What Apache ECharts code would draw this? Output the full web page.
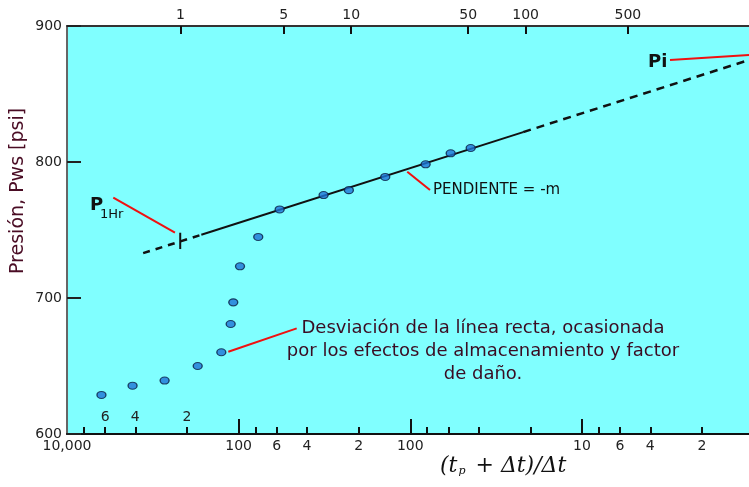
<!DOCTYPE html>
<html>
<head>
<meta charset="utf-8">
<script src="https://cdn.jsdelivr.net/npm/echarts@6/dist/echarts.min.js"></script>
<style>
  html, body { margin: 0; padding: 0; background: #fff; }
  #chart { width: 749px; height: 487px; }
</style>
</head>
<body>
<div id="chart"></div>
<script>
// Horner plot: shut-in pressure vs (tp + dt)/dt (log, reversed)
var X_MIN = 1.064, X_MAX = 10000;

// measured points [ (tp+dt)/dt , Pws psi ]
var hornerRatio = [6300, 4150, 2700, 1732, 1262, 1113, 1075, 982, 769, 577, 320, 228, 140, 81.4, 58.2, 44.5];
var pressure    = [628.7, 635.5, 639.3, 650, 660.1, 680.9, 696.8, 723.3, 744.9, 765.1, 775.7, 779.3, 789, 798.3, 806.4, 810.3];

// straight line (semilog), dashed - solid - dashed
var lineRatio = [3600, 1650, 22, 1.064];
var linePress = [733, 746.5, 822, 875];

// p1hr marker
var p1hrRatio = [2190, 2190];
var p1hrPress = [736, 748];

// bottom axis ticks / labels
var bottomMinorTicks = [8000, 6000, 4000, 2000, 800, 600, 400, 200, 80, 60, 40, 20, 8, 6, 4, 2];
var bottomMajorTicks = [1000, 100, 10];
var bottomLabelVals  = [10000, 1000, 600, 400, 200, 100, 10, 6, 4, 2];
var bottomLabels     = ['10,000', '100', '6', '4', '2', '100', '10', '6', '4', '2'];
var insideLabelVals  = [6000, 4000, 2000];
var insideLabels     = ['6', '4', '2'];

// top axis (shut-in time, hr), placed on the ratio scale
var topTickRatio = [2180, 546, 221, 46, 21.3, 5.4];
var topLabels    = ['1', '5', '10', '50', '100', '500'];

// annotation leaders
var p1hrLeader = [[5374, 773.8], [2350, 748]];
var piLeader   = [[3.07, 875.0], [1.064, 878.7]];
var slopeLeader = [[104.2, 792.9], [76.8, 779.4]];
var devLeader  = [[1149, 660.5], [459, 677.7]];

function zip(a, b) { return a.map(function (v, i) { return [v, b[i]]; }); }
function pick(vals, labels) {
  return function (v) {
    var best = 0, d = Infinity;
    for (var i = 0; i < vals.length; i++) {
      var dd = Math.abs(Math.log(v) - Math.log(vals[i]));
      if (dd < d) { d = dd; best = i; }
    }
    return labels[best];
  };
}

var FONT = 'DejaVu Sans';
var baseX = {
  type: 'log', logBase: 10, inverse: true, min: X_MIN, max: X_MAX,
  splitLine: { show: false }, gridIndex: 0
};

var chart = echarts.init(document.getElementById('chart'));
var redLine = { color: '#f01010', width: 2 };

chart.setOption({
  backgroundColor: '#fff',
  animation: false,
  grid: { left: 67, right: 0, top: 26, bottom: 53, show: true, backgroundColor: '#80ffff', borderWidth: 0 },
  xAxis: [
    Object.assign({}, baseX, {
      position: 'bottom',
      axisLine: { show: true, onZero: false, lineStyle: { color: '#111', width: 2 } },
      axisTick: { show: true, inside: true, length: 7, customValues: bottomMinorTicks, lineStyle: { color: '#111', width: 2 } },
      axisLabel: { customValues: bottomLabelVals, formatter: pick(bottomLabelVals, bottomLabels), color: '#222', fontFamily: FONT, fontSize: 14, margin: 5 }
    }),
    Object.assign({}, baseX, {
      position: 'bottom',
      axisLine: { show: false },
      axisTick: { show: true, inside: true, length: 15, customValues: bottomMajorTicks, lineStyle: { color: '#111', width: 2 } },
      axisLabel: { show: false }
    }),
    Object.assign({}, baseX, {
      position: 'bottom',
      axisLine: { show: false },
      axisTick: { show: false },
      axisLabel: { inside: true, customValues: insideLabelVals, formatter: pick(insideLabelVals, insideLabels), color: '#222', fontFamily: FONT, fontSize: 14, margin: 10 }
    }),
    Object.assign({}, baseX, {
      position: 'top',
      axisLine: { show: true, onZero: false, lineStyle: { color: '#333', width: 2 } },
      axisTick: { show: true, inside: true, length: 8, customValues: topTickRatio, lineStyle: { color: '#111', width: 2 } },
      axisLabel: { customValues: topTickRatio, formatter: pick(topTickRatio, topLabels), color: '#222', fontFamily: FONT, fontSize: 14, margin: 4 }
    })
  ],
  yAxis: {
    type: 'value', min: 600, max: 900, interval: 100,
    axisLine: { show: true, onZero: false, lineStyle: { color: '#666', width: 2 } },
    axisTick: { show: true, inside: true, length: 14, lineStyle: { color: '#222', width: 2 } },
    axisLabel: { color: '#222', fontFamily: FONT, fontSize: 14, margin: 5 },
    splitLine: { show: false }
  },
  series: [
    { type: 'line', data: zip(lineRatio.slice(0, 2), linePress.slice(0, 2)), showSymbol: false, lineStyle: { color: '#111', width: 2.5, type: [7, 6] } },
    { type: 'line', data: zip(lineRatio.slice(1, 3), linePress.slice(1, 3)), showSymbol: false, lineStyle: { color: '#111', width: 2 } },
    { type: 'line', data: zip(lineRatio.slice(2, 4), linePress.slice(2, 4)), showSymbol: false, lineStyle: { color: '#111', width: 2.5, type: [8, 6] } },
    { type: 'line', data: zip(p1hrRatio, p1hrPress), showSymbol: false, lineStyle: { color: '#111', width: 2 } },
    { type: 'line', data: p1hrLeader, showSymbol: false, lineStyle: redLine },
    { type: 'line', data: piLeader, showSymbol: false, lineStyle: redLine },
    { type: 'line', data: slopeLeader, showSymbol: false, lineStyle: redLine },
    { type: 'line', data: devLeader, showSymbol: false, lineStyle: redLine },
    {
      type: 'scatter', data: zip(hornerRatio, pressure), symbol: 'circle', symbolSize: [9, 7],
      itemStyle: { color: '#1e74d6', borderColor: '#0a1f44', borderWidth: 1.2 }, z: 5
    }
  ],
  graphic: [
    { type: 'text', x: 9, y: 274, rotation: Math.PI / 2, style: { text: 'Presión, Pws [psi]', font: '19px "DejaVu Sans"', fill: '#4a0c24' } },
    { type: 'text', x: 90, y: 196, style: { text: 'P', font: 'bold 18px "DejaVu Sans"', fill: '#111' } },
    { type: 'text', x: 100, y: 208, style: { text: '1Hr', font: '13px "DejaVu Sans"', fill: '#111' } },
    { type: 'text', x: 648, y: 53, style: { text: 'Pi', font: 'bold 18px "DejaVu Sans"', fill: '#111' } },
    { type: 'text', x: 433, y: 183, style: { text: 'PENDIENTE = -m', font: '15px "DejaVu Sans"', fill: '#111' } },
    { type: 'text', x: 483, y: 317, style: { text: 'Desviación de la línea recta, ocasionada\npor los efectos de almacenamiento y factor\nde daño.', font: '18px "DejaVu Sans"', lineHeight: 23, align: 'center', fill: '#3a0c22' } },
    { type: 'text', x: 440, y: 455, style: {
        text: '{a|(t}{s|p}{a| + Δt)/Δt}',
        rich: { a: { font: 'italic 22px "DejaVu Serif"', fill: '#111' }, s: { font: 'italic 11px "DejaVu Serif"', fill: '#111', verticalAlign: 'bottom', padding: [9, 3, 0, 1] } }
      } }
  ]
});
</script>
</body>
</html>
